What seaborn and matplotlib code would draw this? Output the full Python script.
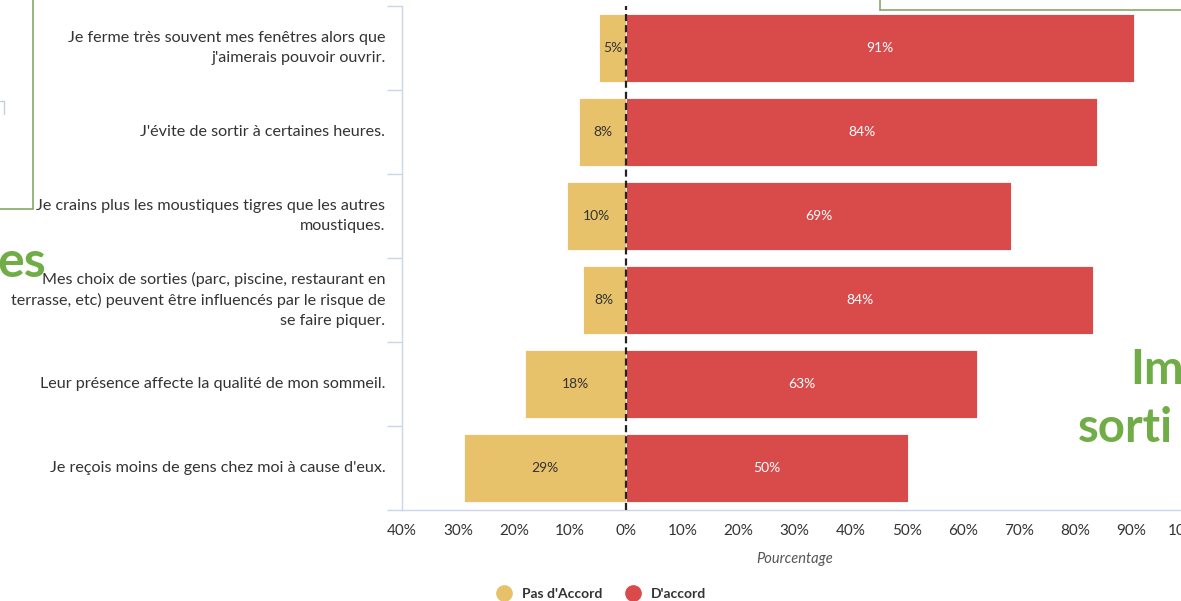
import matplotlib
matplotlib.use("Agg")
import matplotlib.pyplot as plt
import matplotlib.lines as mlines
from matplotlib.ticker import FixedLocator, FuncFormatter
import seaborn as sns
import pandas as pd

# ---- data ----
categories = [
    "Je ferme très souvent mes fenêtres alors que\nj'aimerais pouvoir ouvrir.",
    "J'évite de sortir à certaines heures.",
    "Je crains plus les moustiques tigres que les autres\nmoustiques.",
    "Mes choix de sorties (parc, piscine, restaurant en\nterrasse, etc) peuvent être influencés par le risque de\nse faire piquer.",
    "Leur présence affecte la qualité de mon sommeil.",
    "Je reçois moins de gens chez moi à cause d'eux.",
]
pas_accord = [4.8, 8.4, 10.5, 7.8, 18.0, 29.0]
d_accord = [90.5, 83.9, 68.7, 83.3, 62.6, 50.2]
pas_accord_labels = ["5%", "8%", "10%", "8%", "18%", "29%"]
d_accord_labels = ["91%", "84%", "69%", "84%", "63%", "50%"]
series_names = ["Pas d'Accord", "D'accord"]
x_ticks = [-40, -30, -20, -10, 0, 10, 20, 30, 40, 50, 60, 70, 80, 90, 100]

colors = {"Pas d'Accord": "#E8C26A", "D'accord": "#D94B4B"}

df = pd.DataFrame({
    "cat": categories * 2,
    "val": [-v for v in pas_accord] + d_accord,
    "serie": [series_names[0]] * len(categories) + [series_names[1]] * len(categories),
})

sns.set_theme(style="white")
plt.rcParams["font.family"] = ["Lato", "DejaVu Sans"]

W, H = 1181, 601
fig = plt.figure(figsize=(W / 100, H / 100), dpi=100)
ax = fig.add_axes([402 / W, 1 - 510 / H, (1187 - 402) / W, (510 - 6) / H])

sns.barplot(data=df, y="cat", x="val", hue="serie", palette=colors, dodge=False,
            width=0.8, orient="h", ax=ax, legend=False, saturation=1,
            edgecolor="white", linewidth=0.6)

ax.set_xlim(-40, 100)
ax.set_ylim(len(categories) - 0.5, -0.5)
ax.xaxis.set_major_locator(FixedLocator(x_ticks))
ax.xaxis.set_major_formatter(FuncFormatter(lambda v, p: f"{abs(int(round(v)))}%"))

axis_col = "#CCD6EB"
for s in ["top", "right"]:
    ax.spines[s].set_visible(False)
for s in ["left", "bottom"]:
    ax.spines[s].set_color(axis_col)
    ax.spines[s].set_linewidth(1)

ax.tick_params(axis="x", length=5, width=1, color=axis_col, labelsize=11,
               labelcolor="#333333", pad=5, direction="out")
ax.tick_params(axis="y", which="major", length=0, pad=12, labelsize=11.6,
               labelcolor="#333333")
for t in ax.get_yticklabels():
    t.set_linespacing(1.5)
    t.set_verticalalignment("center")
ax.yaxis.set_minor_locator(FixedLocator([i - 0.5 for i in range(len(categories) + 1)]))
ax.tick_params(axis="y", which="minor", length=11, width=1, color=axis_col, left=True)
ax.set_ylabel("")
ax.set_xlabel("Pourcentage", fontsize=10.5, style="italic", color="#555555", labelpad=10)

ax.axvline(0, color="#222222", lw=1.6, ls=(0, (3.2, 1.8)), zorder=5)

# bar labels
for cont, labs, col in zip(ax.containers, [pas_accord_labels, d_accord_labels], ["#333333", "white"]):
    ax.bar_label(cont, labels=labs, label_type="center", fontsize=10, color=col)

# legend
handles = [mlines.Line2D([], [], marker="o", ls="", markersize=11,
                         markerfacecolor=colors[n], markeredgecolor=colors[n]) for n in series_names]
leg = fig.legend(handles, series_names, loc="center", bbox_to_anchor=(598 / W, 1 - 594 / H),
                 ncol=2, frameon=False, handletextpad=0.3, columnspacing=1.2,
                 prop={"weight": "bold", "size": 10})
for t in leg.get_texts():
    t.set_color("#333333")

# surrounding slide fragments
green = "#86A86A"
fig.add_artist(mlines.Line2D([33 / W, 33 / W], [1, 1 - 209 / H], color=green, lw=1.2))
fig.add_artist(mlines.Line2D([0, 33 / W], [1 - 209 / H, 1 - 209 / H], color=green, lw=1.2))
fig.add_artist(mlines.Line2D([880 / W, 880 / W], [1, 1 - 10 / H], color=green, lw=1.2))
fig.add_artist(mlines.Line2D([880 / W, 1], [1 - 10 / H, 1 - 10 / H], color=green, lw=1.2))
fig.add_artist(mlines.Line2D([0, 4 / W, 4 / W], [1 - 101 / H, 1 - 101 / H, 1 - 114 / H],
                             color="#C5CDE0", lw=1))
tg = "#70AD47"
fig.text(-3 / W, 1 - 262 / H, "es", fontsize=36, fontweight="bold", color=tg, va="center", ha="left")
fig.text(1130 / W, 1 - 370 / H, "Im", fontsize=34, fontweight="bold", color=tg, va="center", ha="left")
fig.text(1078 / W, 1 - 428 / H, "sorti", fontsize=34, fontweight="bold", color=tg, va="center", ha="left")

fig.savefig("out.png", dpi=100, facecolor="white")
